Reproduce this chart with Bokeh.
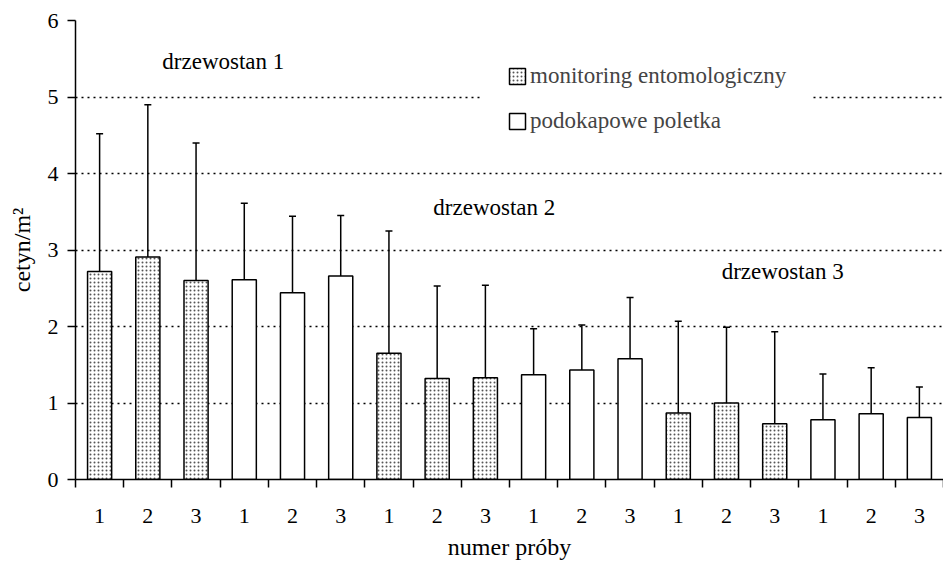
from bokeh.plotting import figure
from bokeh.models import (Range1d, FixedTicker, Whisker, TeeHead, ColumnDataSource,
                          Label, Legend, LegendItem)
from bokeh.embed import file_html
from bokeh.resources import INLINE

# ---- data ----
stands = ["drzewostan 1", "drzewostan 2", "drzewostan 3"]
sample_labels = ["1", "2", "3"]
series_names = ["monitoring entomologiczny", "podokapowe poletka"]

# monitoring entomologiczny (per stand: samples 1,2,3)
monitoring_mean = [2.72, 2.91, 2.60, 1.65, 1.32, 1.33, 0.87, 1.00, 0.73]
monitoring_upper = [4.52, 4.90, 4.40, 3.25, 2.53, 2.54, 2.07, 1.99, 1.93]
# podokapowe poletka
poletka_mean = [2.61, 2.44, 2.66, 1.37, 1.43, 1.58, 0.78, 0.86, 0.81]
poletka_upper = [3.61, 3.44, 3.45, 1.97, 2.02, 2.38, 1.38, 1.46, 1.21]
poletka_lower = [1.60, 1.43, 1.85, 0.77, 0.82, 0.78, 0.18, 0.26, 0.41]

y_ticks = [0, 1, 2, 3, 4, 5, 6]

FONT = "Liberation Serif"

# positions: each stand has 6 slots: 3 monitoring then 3 poletka
n_slots = len(stands) * 2 * len(sample_labels)
mon_x, pol_x = [], []
for si in range(len(stands)):
    for k in range(len(sample_labels)):
        mon_x.append(si * 6 + k + 0.5)
        pol_x.append(si * 6 + 3 + k + 0.5)

mon_src = ColumnDataSource(dict(x=mon_x, top=monitoring_mean, upper=monitoring_upper,
                                lower=monitoring_mean))
pol_src = ColumnDataSource(dict(x=pol_x, top=poletka_mean, upper=poletka_upper,
                                lower=poletka_lower))

p = figure(width=943, height=563, output_backend="svg", toolbar_location=None,
           x_range=Range1d(0, n_slots), y_range=Range1d(0, 6),
           min_border_left=75, min_border_right=0, min_border_top=20, min_border_bottom=84)
p.outline_line_color = None
p.background_fill_color = "white"

r_mon = p.vbar(x="x", top="top", width=0.5, bottom=0, source=mon_src,
               fill_color="white", line_color="black", line_width=1.5,
               hatch_pattern="dot", hatch_scale=4, hatch_weight=1, hatch_color="#555555")
r_pol = p.vbar(x="x", top="top", width=0.5, bottom=0, source=pol_src,
               fill_color="white", line_color="black", line_width=1.5)

p.add_layout(Whisker(source=mon_src, base="x", upper="upper", lower="lower",
                     line_width=1.5, line_color="black",
                     upper_head=TeeHead(size=7, line_width=1.5, line_color="black"),
                     lower_head=None))
p.add_layout(Whisker(source=pol_src, base="x", upper="upper", lower="lower",
                     line_width=1.5, line_color="black",
                     upper_head=TeeHead(size=7, line_width=1.5, line_color="black"),
                     lower_head=TeeHead(size=7, line_width=1.5, line_color="black")))

# axes
xlabels = sample_labels * (len(stands) * 2)
centers = [i + 0.5 for i in range(n_slots)]
p.xaxis.ticker = FixedTicker(ticks=centers, minor_ticks=list(range(n_slots + 1)))
p.xaxis.major_label_overrides = {c: l for c, l in zip(centers, xlabels)}
p.xaxis.major_tick_out = 0
p.xaxis.major_tick_in = 0
p.xaxis.minor_tick_out = 8
p.xaxis.minor_tick_in = 0
p.xaxis.minor_tick_line_width = 1.5
p.xaxis.minor_tick_line_color = "black"
p.xaxis.major_label_standoff = 21
p.xaxis.axis_label = "numer próby"
p.xaxis.axis_label_standoff = 8

p.yaxis.ticker = FixedTicker(ticks=y_ticks)
p.yaxis.minor_tick_line_color = None
p.yaxis.major_tick_out = 8
p.yaxis.major_tick_in = 0
p.yaxis.major_label_standoff = 9
p.yaxis.axis_label = "cetyn/m²"
p.yaxis.axis_label_standoff = 10

for ax in (p.xaxis, p.yaxis):
    ax.axis_line_width = 1.5
    ax.axis_line_color = "black"
    ax.major_tick_line_width = 1.5
    ax.major_tick_line_color = "black"
    ax.major_label_text_font = FONT
    ax.major_label_text_font_size = "22px"
    ax.major_label_text_color = "black"
    ax.axis_label_text_font = FONT
    ax.axis_label_text_font_size = "24px"
    ax.axis_label_text_font_style = "normal"
    ax.axis_label_text_color = "black"

p.xgrid.grid_line_color = None
p.ygrid.ticker = FixedTicker(ticks=y_ticks[1:])
p.ygrid.grid_line_color = "black"
p.ygrid.grid_line_dash = "2 4"
p.ygrid.grid_line_width = 1.3

# stand annotations
for txt, x, y in [(stands[0], 1.80, 5.46), (stands[1], 7.42, 3.56), (stands[2], 13.40, 2.72)]:
    p.add_layout(Label(x=x, y=y, text=txt, text_font=FONT, text_font_size="23px",
                       text_baseline="middle", text_color="black"))

legend = Legend(items=[LegendItem(label=series_names[0], renderers=[r_mon]),
                       LegendItem(label=series_names[1], renderers=[r_pol])],
                location=(408, 319), label_text_font=FONT, label_text_font_size="23px",
                glyph_width=20, glyph_height=20, label_height=30, spacing=15,
                padding=18, label_standoff=3,
                border_line_color="white", border_line_width=6,
                background_fill_color="white", background_fill_alpha=1.0, margin=0)
p.add_layout(legend)

open("out.html", "w").write(file_html(p, INLINE))
